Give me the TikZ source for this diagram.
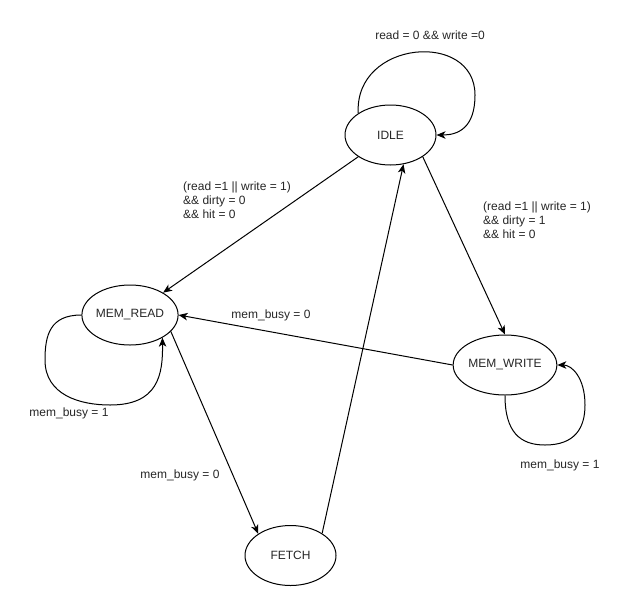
\documentclass[tikz,border=0pt]{standalone}
\usepackage{fontspec}
\setmainfont{Liberation Sans}
\usetikzlibrary{shapes.geometric,arrows.meta}
\begin{document}
\begin{tikzpicture}[x=1pt,y=-1pt,
  state/.style={ellipse,draw,line width=1pt,minimum width=91pt,minimum height=60pt,inner sep=0pt,font=\fontsize{12}{14}\selectfont,text=black!85},
  trans/.style={line width=1pt,-{Stealth[length=9pt,width=7.5pt,inset=2.5pt]}},
  lbl/.style={font=\fontsize{12}{14}\selectfont,text=black!85,inner sep=0pt},
  cond/.style={lbl,align=left,anchor=west}]
  \useasboundingbox (0,0) rectangle (631,611);

  % states
  \node[state] (idle)  at (390.5,135) {IDLE};
  \node[state] (mread) at (130,315)   {MEM\_READ};
  \node[state] (mwrite) at (505,365)  {MEM\_WRITE};
  \node[state] (fetch) at (290.5,555.5) {FETCH};

  % self loops
  \draw[trans] (idle.146) .. controls (354,40) and (475,30) .. (475,95)
               .. controls (475,128) and (458,135) .. (idle.east);
  \draw[trans] (mread.west) .. controls (50,315) and (45,335) .. (45,360)
               .. controls (45,395) and (80,405) .. (110,405)
               .. controls (158,405) and (163,375) .. (mread.-35);
  \draw[trans] (mwrite.south) .. controls (505,432) and (520,445) .. (545,445)
               .. controls (575,445) and (585,428) .. (585,405)
               .. controls (585,378) and (572,365) .. (mwrite.east);

  % transitions between states
  \draw[trans] (idle.214) -- (mread.34);
  \draw[trans] (idle.-34) -- (mwrite.north);
  \draw[trans] (mwrite.west) -- (mread.east);
  \draw[trans] (mread.-22) -- (fetch.146);
  \draw[trans] (fetch.35) -- (idle.-66);

  % guard conditions
  \node[lbl] (lidle) at (430,35) {read = 0 \&\& write =0};
  \node[cond] (lrd) at (183,200) {(read =1 || write = 1)\\\&\& dirty = 0\\\&\& hit = 0};
  \node[cond] (lwr) at (483,220) {(read =1 || write = 1)\\\&\& dirty = 1\\\&\& hit = 0};
  \node[lbl] (lmw) at (271,315) {mem\_busy = 0};
  \node[lbl] (lmr) at (69,413) {mem\_busy = 1};
  \node[lbl] (lft) at (180,475) {mem\_busy = 0};
  \node[lbl] (lmwl) at (560,465) {mem\_busy = 1};
\end{tikzpicture}
\end{document}
